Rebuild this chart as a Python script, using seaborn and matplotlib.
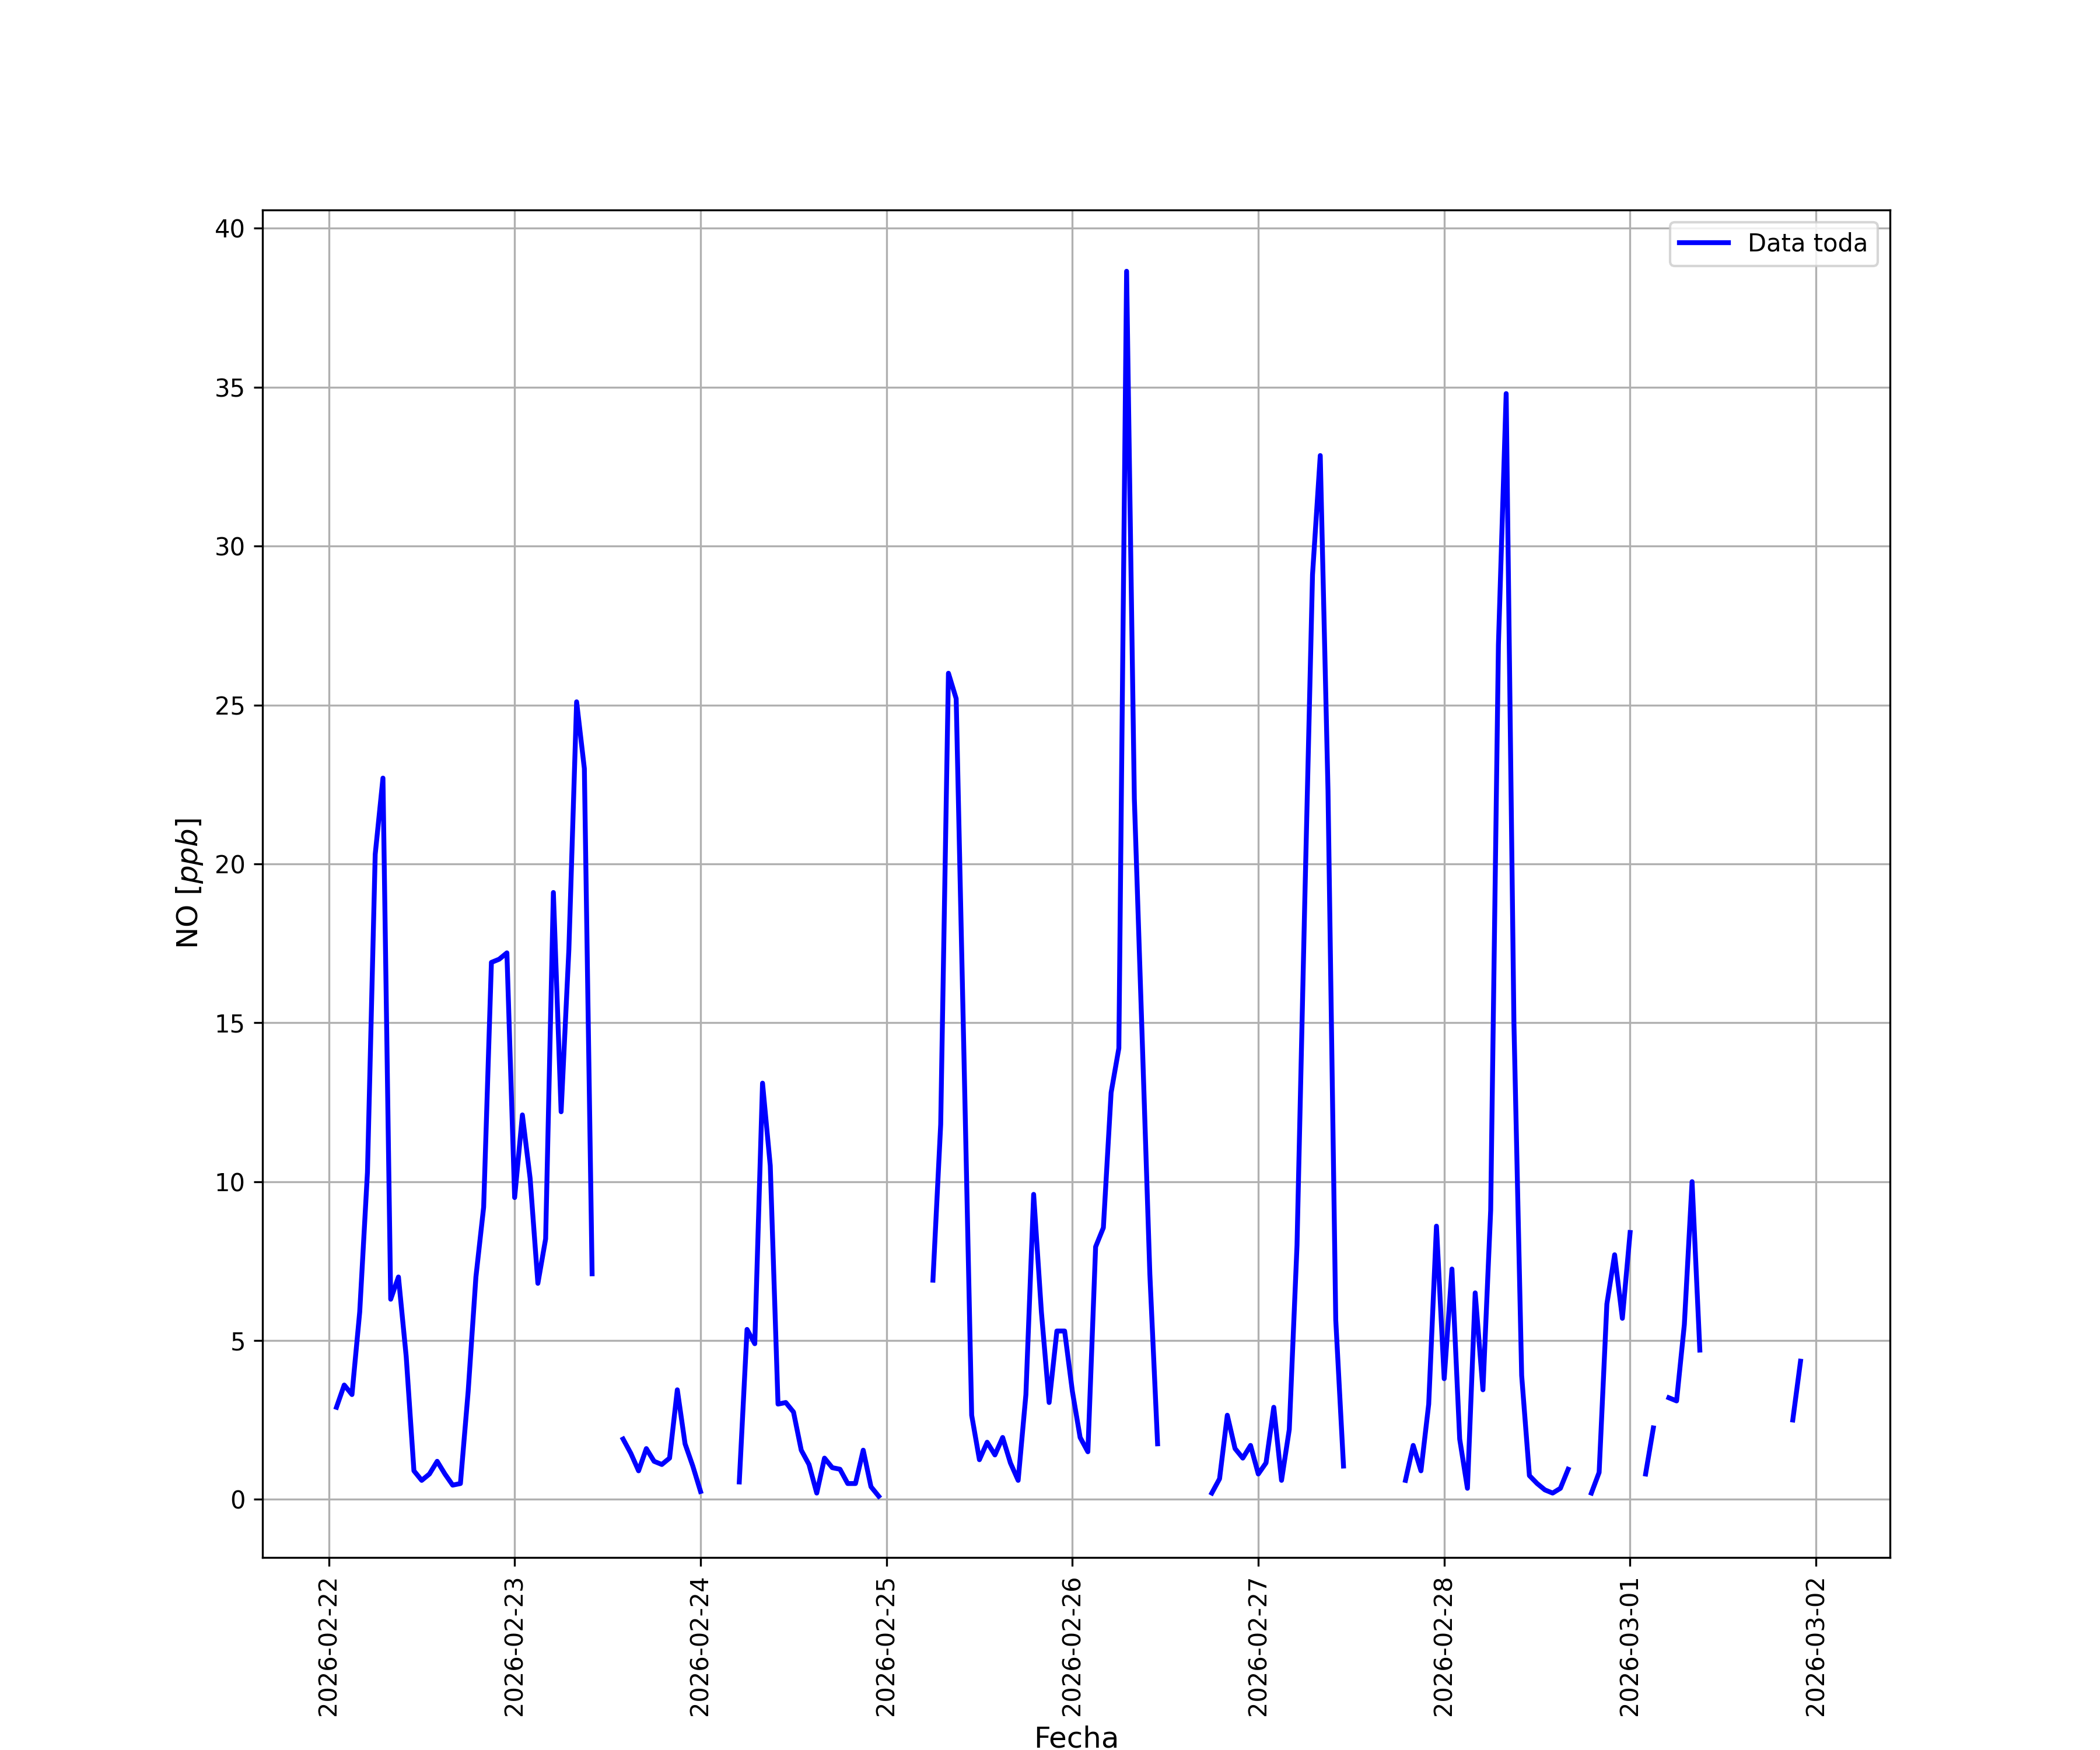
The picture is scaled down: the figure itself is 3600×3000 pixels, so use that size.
import numpy as np
import pandas as pd
import matplotlib
matplotlib.use("Agg")
import matplotlib.pyplot as plt
import seaborn as sns

nan = np.nan

# NO hourly values [ppb], 01:00 of each day to 00:00 of the next
no_0222 = [2.9, 3.6, 3.3, 5.9, 10.3, 20.3, 22.7, 6.3, 7.0, 4.5, 0.9, 0.6,
           0.8, 1.2, 0.8, 0.45, 0.5, 3.4, 7.0, 9.2, 16.9, 17.0, 17.2, 9.5]
no_0223 = [12.1, 10.1, 6.8, 8.2, 19.1, 12.2, 17.3, 25.1, 23.0, 7.1, nan, nan,
           nan, 1.9, 1.45, 0.9, 1.6, 1.2, 1.1, 1.3, 3.45, 1.75, 1.05, 0.25]
no_0224 = [nan, nan, nan, nan, 0.55, 5.35, 4.9, 13.1, 10.5, 3.0, 3.05, 2.75,
           1.55, 1.1, 0.2, 1.3, 1.0, 0.95, 0.5, 0.5, 1.55, 0.4, 0.1, nan]
no_0225 = [nan, nan, nan, nan, nan, 6.9, 11.8, 26.0, 25.2, 14.0, 2.65, 1.25,
           1.8, 1.4, 1.95, 1.15, 0.6, 3.3, 9.6, 5.9, 3.05, 5.3, 5.3, 3.4]
no_0226 = [1.95, 1.5, 7.95, 8.55, 12.8, 14.2, 38.65, 22.05, 14.6, 7.1, 1.75, nan,
           nan, nan, nan, nan, nan, 0.2, 0.65, 2.65, 1.6, 1.3, 1.7, 0.8]
no_0227 = [1.15, 2.9, 0.6, 2.2, 8.0, 18.8, 29.1, 32.85, 22.3, 5.65, 1.05, nan,
           nan, nan, nan, nan, nan, nan, 0.6, 1.7, 0.9, 3.0, 8.6, 3.8]
no_0228 = [7.25, 1.9, 0.35, 6.5, 3.45, 9.1, 26.9, 34.8, 15.0, 3.9, 0.75, 0.5,
           0.3, 0.2, 0.35, 0.95, nan, nan, 0.2, 0.85, 6.15, 7.7, 5.7, 8.4]
no_0301 = [nan, 0.8, 2.25, nan, 3.2, 3.1, 5.5, 10.0, 4.7, nan, nan, nan,
           nan, nan, nan, nan, nan, nan, nan, nan, 2.5, 4.35, nan, nan]

dias = [no_0222, no_0223, no_0224, no_0225, no_0226, no_0227, no_0228, no_0301]
no = np.concatenate(dias)
fecha = pd.date_range("2026-02-22 01:00", periods=len(no), freq="h")

df = pd.DataFrame({"Fecha": fecha, "NO": no})
# split into continuous stretches so gaps stay as gaps
df["tramo"] = df["NO"].isna().cumsum()
datos = df.dropna()

fig, ax = plt.subplots(figsize=(12, 10), dpi=300)
sns.lineplot(data=datos, x="Fecha", y="NO", units="tramo", estimator=None,
             color="blue", linewidth=2, label="Data toda", ax=ax)

span = fecha[-1] - fecha[0]
ax.set_xlim(fecha[0] - 0.05 * span, fecha[-1] + 0.05 * span)

handles, labels = ax.get_legend_handles_labels()
ax.legend(handles[:1], labels[:1], loc="upper right")

ax.set_xlabel("Fecha", fontsize=12)
ax.set_ylabel("NO [$ppb$]", fontsize=12)
ax.grid(True)
plt.setp(ax.get_xticklabels(), rotation=90)

fig.savefig("out.png", dpi=300)
plt.close(fig)
